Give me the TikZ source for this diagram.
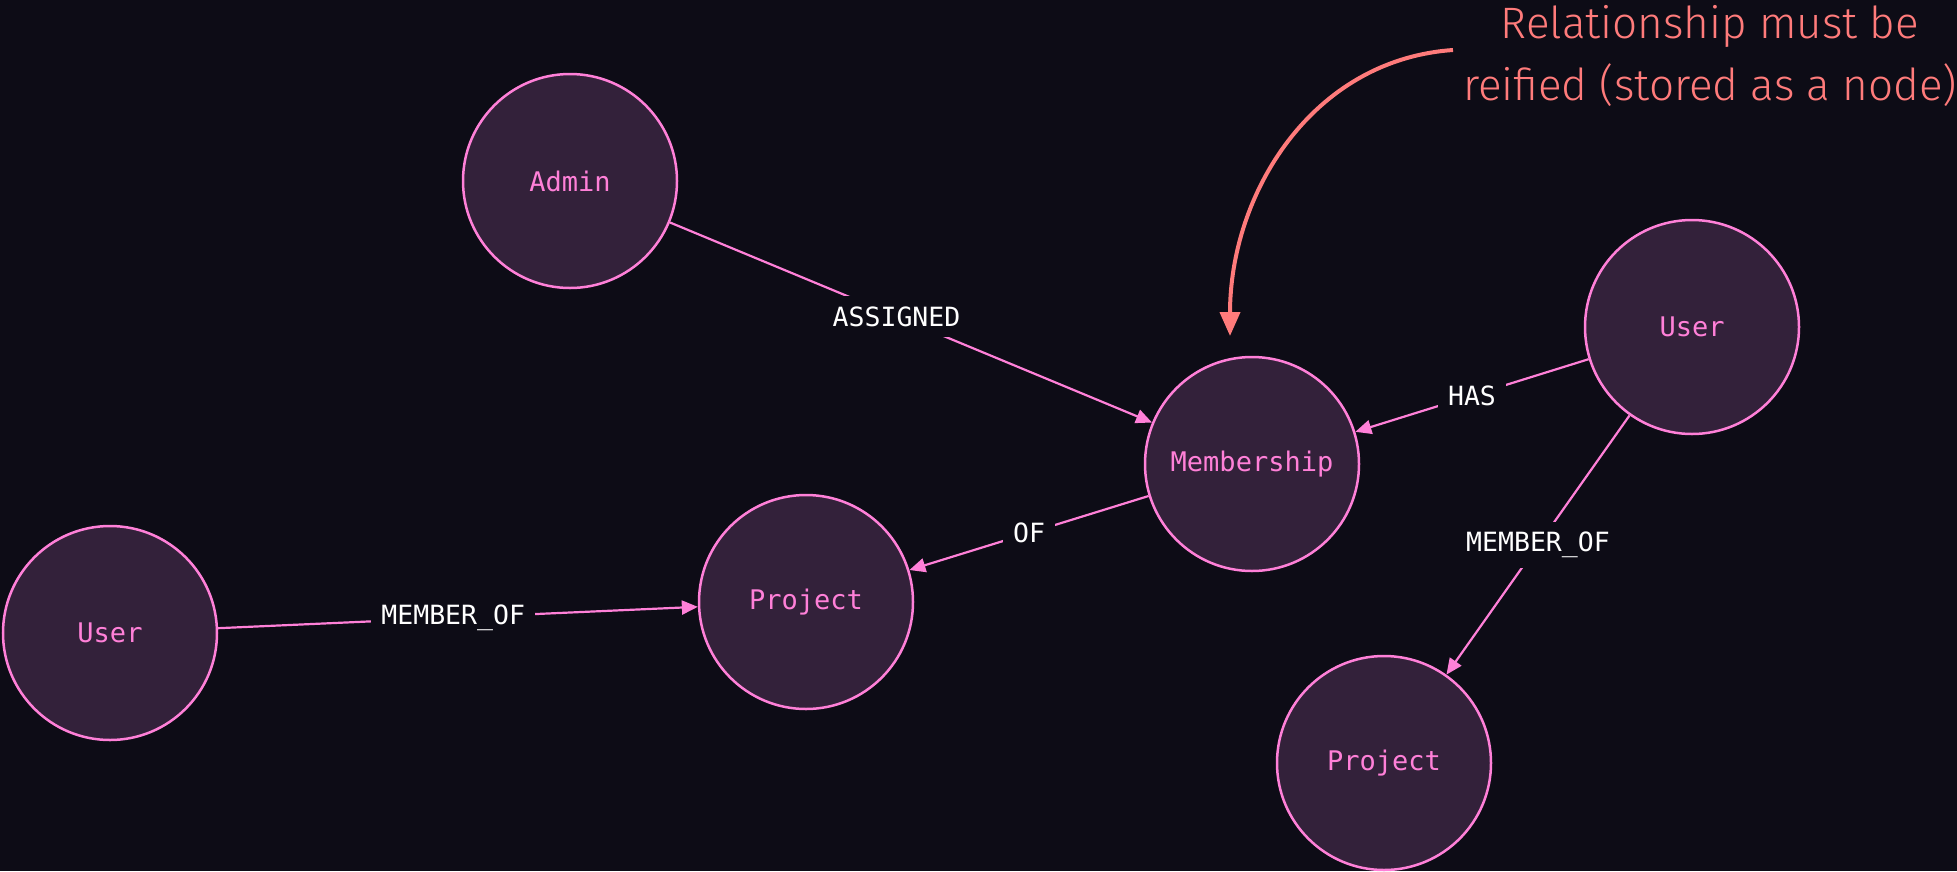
\documentclass[tikz,border=0pt]{standalone}
\usepackage{fontspec}
\setmonofont{DejaVu Sans Mono}
\newfontfamily\notefont{Fira Sans Light}
\usepackage{tikz}
\usetikzlibrary{arrows.meta,positioning}
\definecolor{bg}{HTML}{0D0C16}
\definecolor{nodefill}{HTML}{33213A}
\definecolor{nodeline}{HTML}{FF80D8}
\definecolor{note}{HTML}{FF7B7B}
\tikzstyle{gn}=[circle, draw=nodeline, fill=nodefill, line width=2.5pt, minimum size=214pt, inner sep=0pt, text=nodeline, font=\ttfamily\fontsize{27}{30}\selectfont]
\tikzstyle{rel}=[draw=nodeline, line width=2.2pt, -{Triangle[length=16pt,width=14pt,fill=nodeline]}]
\tikzstyle{lbl}=[fill=bg, text=white, inner sep=10pt, font=\ttfamily\fontsize{26.5}{30}\selectfont]

\begin{document}
\begin{tikzpicture}[x=1pt, y=-1pt]
  \fill[bg] (0,0) rectangle (1957,871);
  \useasboundingbox (0,0) rectangle (1957,871);
%
  \node[gn] (admin) at (570,181) {Admin};
  \node[gn] (member) at (1252,464) {Membership};
  \node[gn] (userr) at (1692,327) {User};
  \node[gn] (userl) at (110,633) {User};
  \node[gn] (projm) at (806,602) {Project};
  \node[gn] (projb) at (1384,763) {Project};
%
  \path[rel]
  (admin) edge node[lbl, pos=0.47] {ASSIGNED} (member)
  (userr) edge node[lbl] {HAS} (member)
  (member) edge node[lbl] {OF} (projm)
  (userl) edge node[lbl, pos=0.49] {MEMBER\_OF} (projm)
  (userr) edge node[lbl] {MEMBER\_OF} (projb);
%
  \node[text=note, align=center, font=\notefont\fontsize{44}{62}\selectfont] (note) at (1710,56) {Relationship must be\\reified (stored as a node)};
  \coordinate (ns) at (1453,50);
  \coordinate (nt) at (1230,336);
  \draw[note, line width=4pt, -{Triangle[length=24pt,width=20pt]}] (ns) to[out=184, in=90] (nt);
\end{tikzpicture}
\end{document}
